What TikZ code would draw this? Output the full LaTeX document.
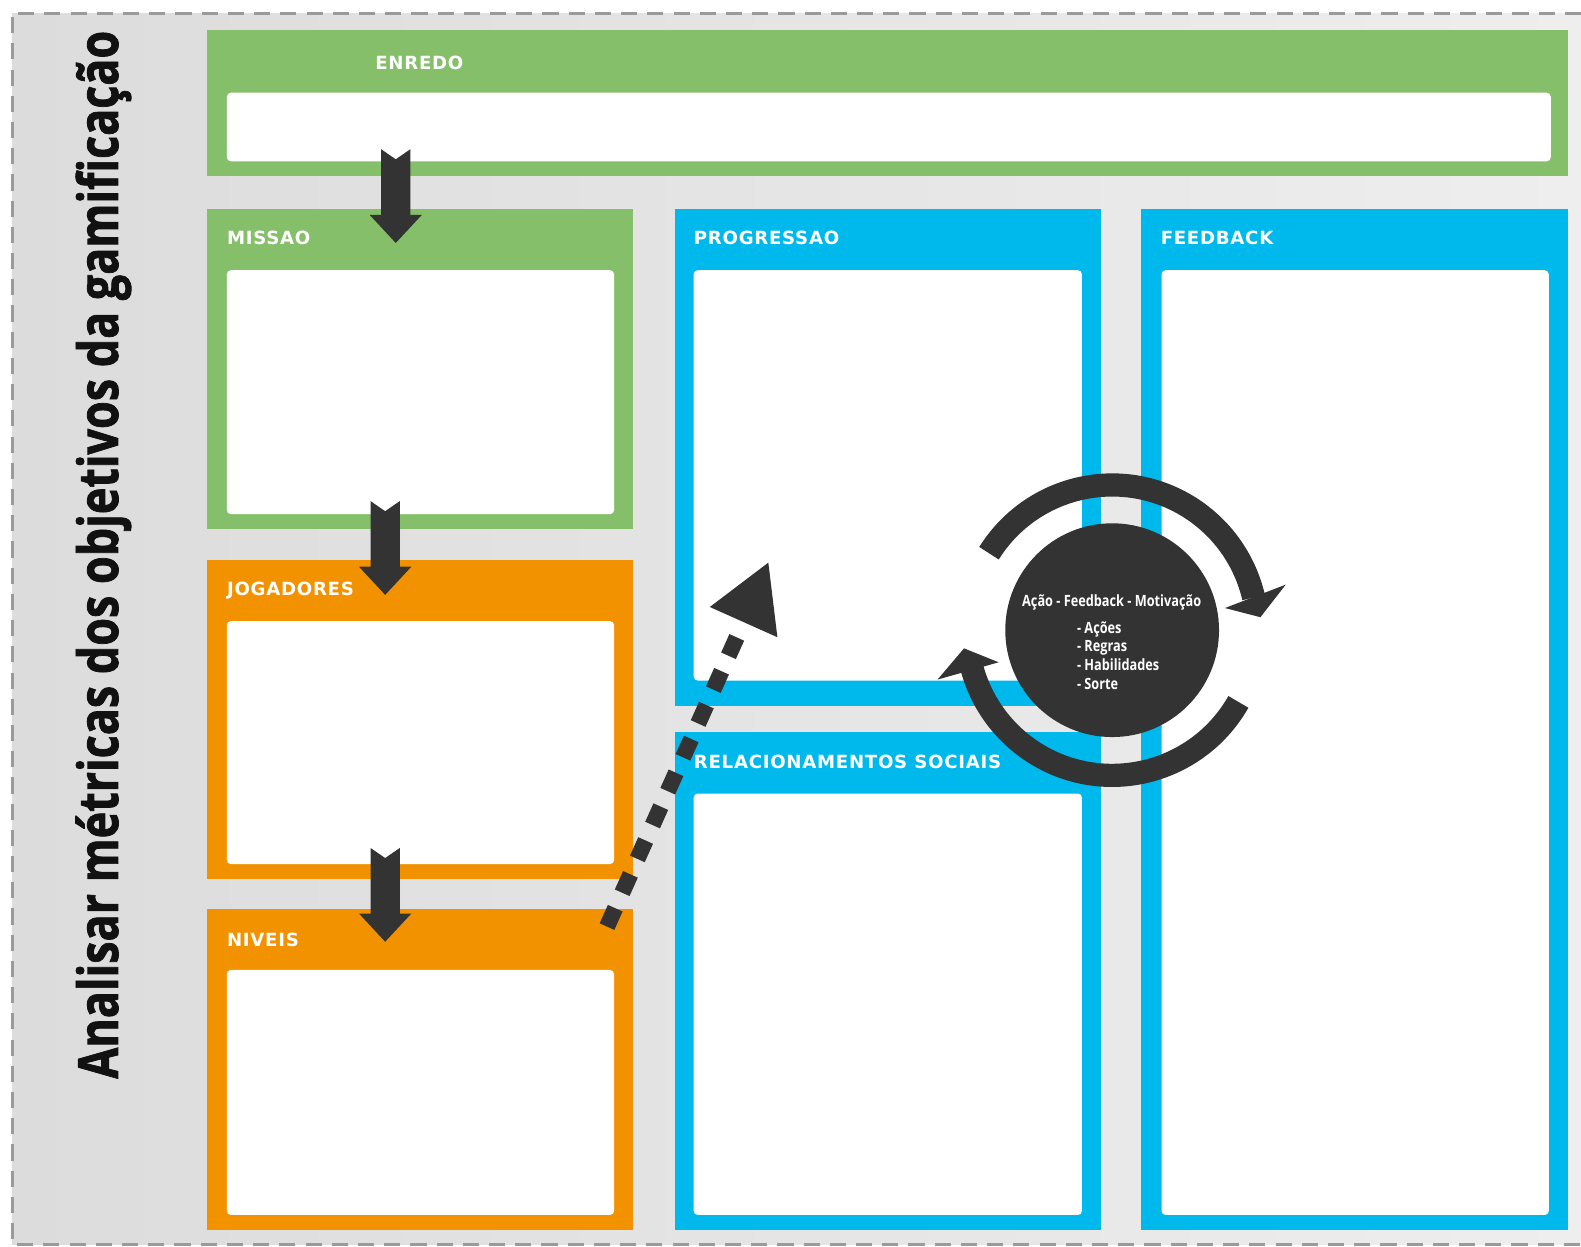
\documentclass[tikz,border=0pt]{standalone}
\usepackage{fontspec}
\usepackage{graphicx}
\usetikzlibrary{calc}

\newfontfamily\titlefont[BoldFeatures={FakeBold=1.6}]{Open Sans}
\newfontfamily\panelfont[LetterSpace=4]{DejaVu Sans}
\newfontfamily\cyclefont{Open Sans}

\definecolor{bgleft}{HTML}{DCDCDC}
\definecolor{bgright}{HTML}{EEEEEE}
\definecolor{bordergray}{HTML}{9A9A9A}
\definecolor{panelgreen}{HTML}{86BF6A}
\definecolor{panelorange}{HTML}{F29200}
\definecolor{panelblue}{HTML}{00B9EC}
\definecolor{inkdark}{HTML}{333333}
\definecolor{headingink}{HTML}{111111}

% condensed look for the cycle text
\newcommand\narrowtext[1]{\scalebox{0.82}[1]{#1}}

% thick downward arrow with a notched tail: #1 tail coordinate, #2 tip coordinate
\newcommand\blockarrow[2]{%
  \fill[inkdark] ($(#1)+(-14.5,0)$) -- ($(#1)+(0,-10)$) -- ($(#1)+(14.5,0)$)
    -- ($(#2)+(14.5,28)$) -- ($(#2)+(26,28)$) -- (#2) -- ($(#2)+(-26,28)$)
    -- ($(#2)+(-14.5,28)$) -- cycle;}

\tikzset{
  panel/.style={anchor=south west, inner sep=0pt, outer sep=0pt, draw=none},
  card/.style={anchor=south west, inner sep=0pt, outer sep=0pt, fill=white, rounded corners=4pt},
  paneltitle/.style={anchor=base west, inner sep=0pt, text=white,
    font=\panelfont\bfseries\fontsize{18}{20}\selectfont},
  border/.style={draw=bordergray, line width=3pt, dash pattern=on 16pt off 10pt},
  dotted link/.style={draw=inkdark, line width=16pt, dash pattern=on 20pt off 16.8pt},
  cyclearc/.style={draw=inkdark, line width=23pt},
  cycletext/.style={inner sep=0pt, text=white, font=\cyclefont\bfseries\fontsize{15.4}{18}\selectfont},
}

\begin{document}
\begin{tikzpicture}[x=1pt, y=1pt]
\useasboundingbox (0,0) rectangle (1568,1236);

% backdrop and dashed frame
\shade[left color=bgleft, right color=bgright] (12,2) rectangle (1568,1223);
\draw[border] (1568,1223) -- (12,1223) -- (12,2) -- (1568,2);

% vertical heading
\node[rotate=90, anchor=base west, inner sep=0pt, text=headingink] (heading) at (117,166)
  {\resizebox{1039pt}{42pt}{\titlefont\bfseries Analisar métricas dos objetivos da gamificação}};

% panels
\node[panel, fill=panelgreen, minimum width=1350pt, minimum height=145pt] (enredo) at (205,1061) {};
\node[card, minimum width=1313pt, minimum height=68pt] (enredocard) at (225,1076) {};
\node[paneltitle] (enredolabel) at (372,1167.5) {ENREDO};

\node[panel, fill=panelgreen, minimum width=423pt, minimum height=318pt] (missao) at (205,711) {};
\node[card, minimum width=384pt, minimum height=242pt] (missaocard) at (225,726) {};
\node[paneltitle] (missaolabel) at (225,993) {MISSAO};

\node[panel, fill=panelorange, minimum width=423pt, minimum height=317pt] (jogadores) at (205,364) {};
\node[card, minimum width=384pt, minimum height=241pt] (jogadorescard) at (225,379) {};
\node[paneltitle] (jogadoreslabel) at (225,645) {JOGADORES};

\node[panel, fill=panelorange, minimum width=423pt, minimum height=318pt] (niveis) at (205,16) {};
\node[card, minimum width=384pt, minimum height=243pt] (niveiscard) at (225,31) {};
\node[paneltitle] (niveislabel) at (225,297) {NIVEIS};

\node[panel, fill=panelblue, minimum width=423pt, minimum height=493pt] (progressao) at (669,536) {};
\node[card, minimum width=385pt, minimum height=407pt] (progressaocard) at (688,561) {};
\node[paneltitle] (progressaolabel) at (688,993) {PROGRESSAO};

\node[panel, fill=panelblue, minimum width=423pt, minimum height=494pt] (relacoes) at (669,16) {};
\node[card, minimum width=385pt, minimum height=418pt] (relacoescard) at (688,31) {};
\node[paneltitle] (relacoeslabel) at (688,474) {RELACIONAMENTOS SOCIAIS};

\node[panel, fill=panelblue, minimum width=423pt, minimum height=1013pt] (feedback) at (1132,16) {};
\node[card, minimum width=384pt, minimum height=937pt] (feedbackcard) at (1152,31) {};
\node[paneltitle] (feedbacklabel) at (1151,993) {FEEDBACK};

% flow between the left-hand panels
\coordinate (flowAtail) at (392.5,1088);
\coordinate (flowAtip)  at (392.5,995);
\coordinate (flowBtail) at (382,739);
\coordinate (flowBtip)  at (382,646);
\coordinate (flowCtail) at (382,395);
\coordinate (flowCtip)  at (382,302);
\blockarrow{flowAtail}{flowAtip}
\blockarrow{flowBtail}{flowBtip}
\blockarrow{flowCtail}{flowCtip}

% dotted link from the levels panel up to the progress panel
\coordinate (linkfrom) at (602,317);
\coordinate (linkto)   at (737.5,619);
\draw[dotted link] (linkfrom) -- (linkto);
\fill[inkdark] (704,634) -- (762,678) -- (771,604) -- cycle;

% action / feedback / motivation cycle
\coordinate (C) at (1103,611);
\draw[cyclearc] ($(C)+(148:144)$) arc[start angle=148, end angle=13, radius=144pt];
\fill[inkdark] ($(C)+(11.1:114)$) -- ($(C)+(14.7:178)$) -- ($(C)+(5:147.6)$) -- cycle;
\draw[cyclearc] ($(C)+(-29.6:144)$) arc[start angle=-29.6, end angle=-166, radius=144pt];
\fill[inkdark] ($(C)+(-164.2:117)$) -- ($(C)+(-164.2:180)$) -- ($(C)+(-173:148)$) -- cycle;

\node[circle, fill=inkdark, minimum size=212pt, inner sep=0pt] (cycle) at (C) {};
\node[cycletext, anchor=base] (cyclehead) at (1102.5,634) {\narrowtext{Ação - Feedback - Motivação}};
\node[cycletext, anchor=base west] (itemA) at (1068,608) {\narrowtext{- Ações}};
\node[cycletext, anchor=base west] (itemB) at (1068,590) {\narrowtext{- Regras}};
\node[cycletext, anchor=base west] (itemC) at (1068,571) {\narrowtext{- Habilidades}};
\node[cycletext, anchor=base west] (itemD) at (1068,552) {\narrowtext{- Sorte}};
\end{tikzpicture}
\end{document}
